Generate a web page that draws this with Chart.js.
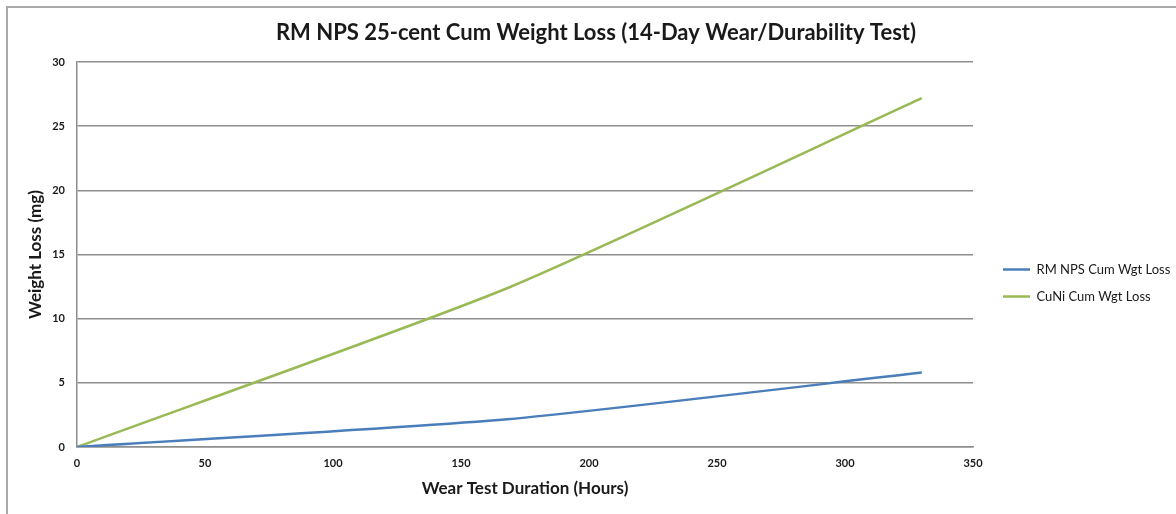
<!DOCTYPE html>
<html>
<head>
<meta charset="utf-8">
<script src="https://cdn.jsdelivr.net/npm/chart.js@4.4.1/dist/chart.umd.min.js"></script>
<style>
  html, body { margin: 0; padding: 0; background: #fff; }
  /* moldura cinza do gráfico (cortada à direita e embaixo) */
  #moldura { position: absolute; left: 6px; top: 6px; width: 1300px; height: 600px; border: 2px solid #a9a9a9; }
  #area { position: absolute; left: 0; top: 0; width: 1176px; height: 514px; }
</style>
</head>
<body>
<div id="moldura"></div>
<div id="area"><canvas id="grafico"></canvas></div>
<script>
// Dados
const horas = [0, 168, 330];
const perdaRmNps = [0, 2.16, 5.8];
const perdaCuNi = [0, 12.37, 27.18];
const nomesSeries = ['RM NPS Cum Wgt Loss', 'CuNi Cum Wgt Loss'];
const ticksX = [0, 50, 100, 150, 200, 250, 300, 350];
const ticksY = [0, 5, 10, 15, 20, 25, 30];

const corAzul = '#4a7ebb';
const corVerde = '#98b954';
const corGrade = '#8e8e8e';

Chart.defaults.font.family = 'Lato, "Open Sans", sans-serif';
Chart.defaults.color = '#1a1a1a';

// Monta os pontos {x, y} a partir das listas
function pontos(valores) {
    return horas.map((h, i) => ({ x: h, y: valores[i] }));
}

// Ajuste da posição da legenda e do título depois do layout
const ajusteLayout = {
    id: 'ajusteLayout',
    afterLayout(chart) {
        const leg = chart.legend;
        leg.left += 16;
        leg.right += 16;
        leg.top += 26;
        leg.bottom += 26;
        const tit = chart.titleBlock;
        tit.left += 17;
        tit.right += 17;
    }
};

const ctx = document.getElementById('grafico').getContext('2d');
const grafico = new Chart(ctx, {
    type: 'line',
    data: {
        datasets: [{
            label: nomesSeries[0],
            data: pontos(perdaRmNps),
            borderColor: corAzul,
            backgroundColor: corAzul,
            borderWidth: 2.5,
            pointRadius: 0,
            tension: 0.2
        }, {
            label: nomesSeries[1],
            data: pontos(perdaCuNi),
            borderColor: corVerde,
            backgroundColor: corVerde,
            borderWidth: 2.5,
            pointRadius: 0,
            tension: 0.2
        }]
    },
    options: {
        responsive: true,
        maintainAspectRatio: false,
        animation: false,
        layout: { padding: { left: 0, right: 18, top: 0, bottom: 0 } },
        plugins: {
            title: {
                display: true,
                text: 'RM NPS 25-cent Cum Weight Loss (14-Day Wear/Durability Test)',
                font: { size: 22, weight: 'bold' },
                color: '#1a1a1a',
                padding: { top: 20, bottom: 15.6 }
            },
            legend: {
                position: 'right',
                maxWidth: 185,
                labels: {
                    usePointStyle: true,
                    pointStyle: 'line',
                    pointStyleWidth: 27,
                    padding: 14,
                    font: { size: 13 },
                    color: '#1a1a1a'
                }
            },
            tooltip: { enabled: false }
        },
        scales: {
            x: {
                type: 'linear',
                min: 0,
                max: 350,
                afterBuildTicks: (escala) => { escala.ticks = ticksX.map(v => ({ value: v })); },
                afterFit: (escala) => { escala.height = 67; },
                grid: { display: false, drawTicks: false },
                border: { display: true, color: corGrade, width: 1.5 },
                ticks: { padding: 10, font: { size: 11, weight: 'bold' }, color: '#1a1a1a' },
                title: {
                    display: true,
                    text: 'Wear Test Duration (Hours)',
                    font: { size: 17, weight: 'bold' },
                    color: '#1a1a1a',
                    padding: { top: 6, bottom: 15 }
                }
            },
            y: {
                min: 0,
                max: 30,
                afterBuildTicks: (escala) => { escala.ticks = ticksY.map(v => ({ value: v })); },
                afterFit: (escala) => { escala.width = 77; },
                grid: { color: corGrade, lineWidth: 1.5, drawTicks: false },
                border: { display: true, color: corGrade, width: 1.5 },
                ticks: { padding: 12, font: { size: 11, weight: 'bold' }, color: '#1a1a1a' },
                title: {
                    display: true,
                    text: 'Weight Loss (mg)',
                    font: { size: 17, weight: 'bold' },
                    color: '#1a1a1a',
                    padding: { top: 25.8, bottom: 0 }
                }
            }
        }
    },
    plugins: [ajusteLayout]
});
</script>
</body>
</html>
